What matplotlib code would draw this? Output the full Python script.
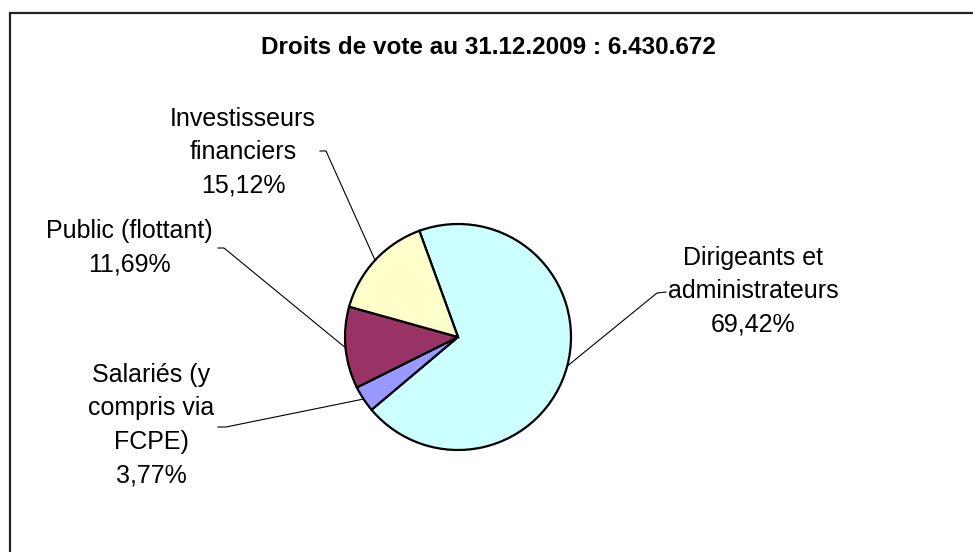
import numpy as np
import matplotlib
matplotlib.use("Agg")
import matplotlib.pyplot as plt

# data
labels = ["Dirigeants et\nadministrateurs", "Salariés (y\ncompris via\nFCPE)",
          "Public (flottant)", "Investisseurs\nfinanciers"]
values = [69.42, 3.77, 11.69, 15.12]
colors = ["#CCFFFF", "#9999FF", "#993366", "#FFFFCC"]
title = "Droits de vote au 31.12.2009 : 6.430.672"

W, H = 973, 552
plt.rcParams['font.family'] = ['Liberation Sans', 'DejaVu Sans']

fig = plt.figure(figsize=(W / 100, H / 100), dpi=100)
ax = fig.add_axes([0, 0, 1, 1])

# pixel coords -> data coords (y up)
def P(px, py):
    return px, H - py

cx, cy = P(458, 337)
R = 113
start = 110

wedges, _ = ax.pie(values, colors=colors, startangle=start, counterclock=False,
                   center=(cx, cy), radius=R,
                   wedgeprops=dict(edgecolor="black", linewidth=1.6))
ax.set_xlim(0, W)
ax.set_ylim(0, H)
ax.set_aspect("auto")
ax.axis("off")

# label text positions (center of block) and leader elbow / end points
lab_pos = [(753, 291), (151, 425), (129, 248), (243, 152)]
elbows = [((657, 293), (666, 292)), ((226, 427), (218, 427)),
          ((224, 248), (218, 248)), ((326, 151), (320, 151))]

for w, lab, v, pos, (elb, end) in zip(wedges, labels, values, lab_pos, elbows):
    mid = np.deg2rad((w.theta1 + w.theta2) / 2)
    rx, ry = cx + R * np.cos(mid), cy + R * np.sin(mid)
    ex, ey = P(*elb)
    nx, ny = P(*end)
    ax.plot([rx, ex, nx], [ry, ey, ny], color="black", lw=0.8, zorder=1)
    txt = lab + "\n" + ("%.2f%%" % v).replace(".", ",")
    ax.text(*P(*pos), txt, ha="center", va="center", fontsize=18,
            linespacing=1.5, color="black")

ax.text(*P(488, 47), title, ha="center", va="center", fontsize=17.5,
        fontweight="bold")

# chart frame (runs off right and bottom edges)
fx, fy = P(9.5, 12.7)
ax.plot([fx, fx, W + 5], [-5, fy, fy], color="#222222", lw=1.6,
        clip_on=False, solid_joinstyle="miter")

fig.savefig("out.png", dpi=100, facecolor="white")
